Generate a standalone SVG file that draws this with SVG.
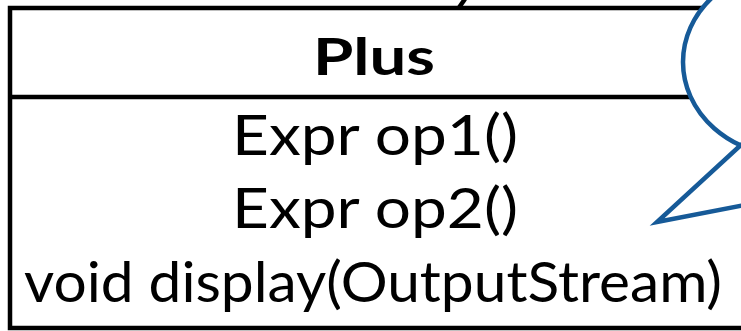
<svg xmlns="http://www.w3.org/2000/svg" width="741" height="331" viewBox="0 0 741 331">
<style>
.box{fill:#fff;stroke:#000;stroke-width:4.5}
.line{stroke:#000;stroke-width:4.5;fill:none}
.t{font-family:Lato,"Liberation Sans",sans-serif;font-size:56px;fill:#000;text-anchor:middle}
.h{font-family:Lato,"Liberation Sans",sans-serif;font-size:52px;font-weight:bold;fill:#000;text-anchor:middle}
.bub{fill:#fff;stroke:#165a98;stroke-width:4.5}
</style>
<rect width="741" height="331" fill="#fff"/>
<g id="connectors">
<line class="line" x1="465" y1="-1" x2="458" y2="9" stroke-width="3.5"/>
</g>
<g id="plus">
<rect class="box" x="10" y="8" width="740" height="320"/>
<line class="line" x1="10" y1="97" x2="750" y2="97"/>
<text class="h" x="374" y="75" textLength="122" lengthAdjust="spacingAndGlyphs">Plus</text>
<text class="t" x="375" y="155" textLength="286" lengthAdjust="spacingAndGlyphs">Expr op1()</text>
<text class="t" x="375" y="228" textLength="286" lengthAdjust="spacingAndGlyphs">Expr op2()</text>
<text class="t" x="373" y="302" textLength="698" lengthAdjust="spacingAndGlyphs">void display(OutputStream)</text>
</g>
<g id="bubble">
<ellipse class="bub" cx="790" cy="62" rx="107" ry="94"/>
<polygon points="745,141 657,222 745,205" fill="#fff"/>
<polyline points="742,144 657,222 745,205" fill="none" stroke="#165a98" stroke-width="4.5" stroke-linejoin="miter"/>
</g>
</svg>
